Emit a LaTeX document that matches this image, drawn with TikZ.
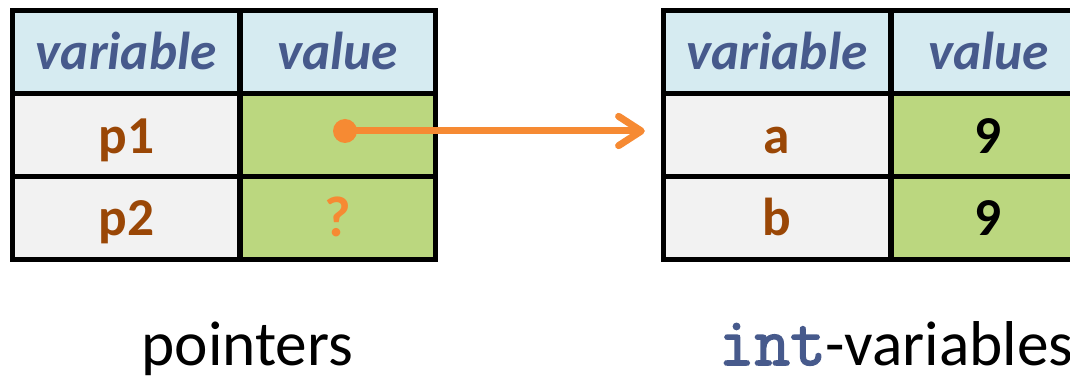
\documentclass[tikz,border=0pt]{standalone}
\usepackage{fontspec}
\setmainfont{Carlito}
\newfontfamily\codefont[FakeBold=2.2]{Latin Modern Mono}
\usetikzlibrary{arrows.meta}

\definecolor{hdrfill}{HTML}{D6EBF1}
\definecolor{varfill}{HTML}{F2F2F2}
\definecolor{valfill}{HTML}{BBD77F}
\definecolor{hdrtext}{HTML}{475A8C}
\definecolor{nametext}{HTML}{9A4706}
\definecolor{ptrorange}{HTML}{F68A33}

\tikzset{
  cell/.style={rectangle, draw=black, line width=3.75pt, inner sep=0pt, minimum height=62pt},
  varcol/.style={cell, minimum width=170.6pt},
  valcol/.style={cell, minimum width=146.25pt},
  hdr/.style={anchor=base, text=hdrtext, font=\fontsize{40pt}{44pt}\selectfont\bfseries\itshape},
  ident/.style={anchor=base, text=nametext, font=\fontsize{40pt}{44pt}\selectfont\bfseries},
  num/.style={anchor=base, text=black, font=\fontsize{40pt}{44pt}\selectfont\bfseries},
  caption/.style={anchor=base, text=black, font=\fontsize{47.5pt}{50pt}\selectfont},
  ptrdot/.style={circle, fill=ptrorange, inner sep=0pt, minimum size=18pt},
  ptrline/.style={draw=ptrorange, line width=5.25pt, line cap=round,
    -{Straight Barb[length=17pt, width=22pt, round]}},
}

\begin{document}
\begin{tikzpicture}[x=0.75pt, y=-0.75pt]
\useasboundingbox (0,0) rectangle (1070,377);

% pointer table
\node[varcol, fill=hdrfill] (lh1) at (126.25,52) {};
\node[valcol, fill=hdrfill] (lh2) at (337.5,52) {};
\node[varcol, fill=varfill] (lr1a) at (126.25,135) {};
\node[valcol, fill=valfill] (lr1b) at (337.5,135) {};
\node[varcol, fill=varfill] (lr2a) at (126.25,218) {};
\node[valcol, fill=valfill] (lr2b) at (337.5,218) {};

\node[hdr] (lt1) at (126.25,70) {variable};
\node[hdr] (lt2) at (337.5,70) {value};
\node[ident] (p1) at (126.25,154) {p1};
\node[ident] (p2) at (126.25,236) {p2};
\node[ident, text=ptrorange, font=\fontsize{43pt}{46pt}\selectfont\bfseries] (q) at (338,237) {?};

% int table
\node[varcol, fill=hdrfill] (rh1) at (777,52) {};
\node[valcol, fill=hdrfill] (rh2) at (988.5,52) {};
\node[varcol, fill=varfill] (rr1a) at (777,135) {};
\node[valcol, fill=valfill] (rr1b) at (988.5,135) {};
\node[varcol, fill=varfill] (rr2a) at (777,218) {};
\node[valcol, fill=valfill] (rr2b) at (988.5,218) {};

\node[hdr] (rt1) at (777,70) {variable};
\node[hdr] (rt2) at (988.5,70) {value};
\node[ident] (a) at (777,154) {a};
\node[ident] (b) at (777,236) {b};
\node[num] (n1) at (988.5,154) {9};
\node[num] (n2) at (988.5,236) {9};

% the pointer p1 refers to a
\node[ptrdot] (dot) at (345,131) {};
\draw[ptrline] (dot.center) -- ([xshift=-12pt]rr1a.west |- dot.center);

% captions
\node[caption] (capl) at (247.5,365) {pointers};
\node[caption, anchor=base west] (capr) at (714,365)
  {\textcolor{hdrtext}{\fontsize{52pt}{54pt}\selectfont\codefont int}-variables};
\end{tikzpicture}
\end{document}
